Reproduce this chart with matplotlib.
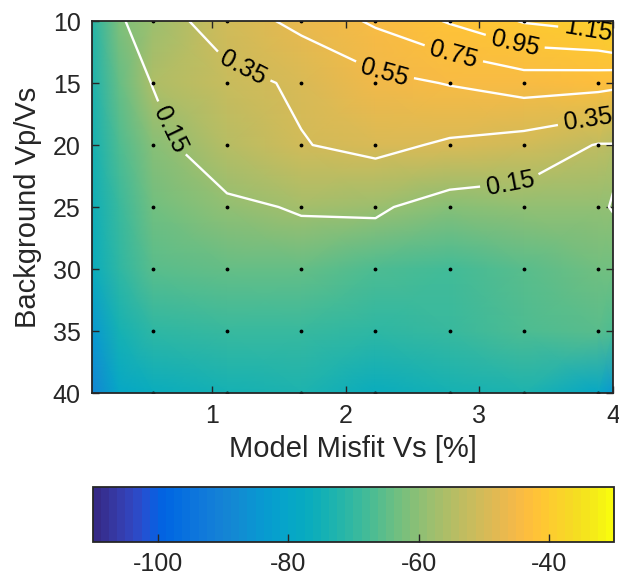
import numpy as np
import matplotlib
matplotlib.use("Agg")
import matplotlib.pyplot as plt
from matplotlib.colors import ListedColormap

plt.rcParams['font.family'] = ['Liberation Sans', 'DejaVu Sans']
plt.rcParams['axes.unicode_minus'] = False

# ----------------------------
# Parula colormap (64 colours)
# ----------------------------
parula_rgb = [
    [0.2081, 0.1663, 0.5292], [0.2116, 0.1898, 0.5777], [0.2123, 0.2138, 0.6270],
    [0.2081, 0.2386, 0.6771], [0.1959, 0.2645, 0.7279], [0.1707, 0.2919, 0.7792],
    [0.1253, 0.3242, 0.8303], [0.0591, 0.3598, 0.8683], [0.0117, 0.3875, 0.8820],
    [0.0060, 0.4086, 0.8828], [0.0165, 0.4266, 0.8786], [0.0329, 0.4430, 0.8720],
    [0.0498, 0.4586, 0.8641], [0.0629, 0.4737, 0.8554], [0.0723, 0.4887, 0.8467],
    [0.0779, 0.5040, 0.8384], [0.0793, 0.5200, 0.8312], [0.0749, 0.5375, 0.8263],
    [0.0641, 0.5570, 0.8240], [0.0488, 0.5772, 0.8228], [0.0343, 0.5966, 0.8199],
    [0.0265, 0.6137, 0.8135], [0.0239, 0.6287, 0.8038], [0.0231, 0.6418, 0.7913],
    [0.0228, 0.6535, 0.7768], [0.0267, 0.6642, 0.7607], [0.0384, 0.6743, 0.7436],
    [0.0590, 0.6838, 0.7254], [0.0843, 0.6928, 0.7062], [0.1133, 0.7015, 0.6859],
    [0.1453, 0.7098, 0.6646], [0.1801, 0.7177, 0.6424], [0.2178, 0.7250, 0.6193],
    [0.2586, 0.7317, 0.5954], [0.3022, 0.7376, 0.5712], [0.3482, 0.7424, 0.5473],
    [0.3953, 0.7459, 0.5244], [0.4420, 0.7481, 0.5033], [0.4871, 0.7491, 0.4840],
    [0.5300, 0.7491, 0.4661], [0.5709, 0.7485, 0.4494], [0.6099, 0.7473, 0.4337],
    [0.6473, 0.7456, 0.4188], [0.6834, 0.7435, 0.4044], [0.7184, 0.7411, 0.3905],
    [0.7525, 0.7384, 0.3768], [0.7858, 0.7356, 0.3633], [0.8185, 0.7327, 0.3498],
    [0.8507, 0.7299, 0.3360], [0.8824, 0.7274, 0.3217], [0.9139, 0.7258, 0.3063],
    [0.9450, 0.7261, 0.2886], [0.9739, 0.7314, 0.2666], [0.9938, 0.7455, 0.2403],
    [0.9990, 0.7653, 0.2164], [0.9955, 0.7861, 0.1967], [0.9880, 0.8066, 0.1794],
    [0.9789, 0.8271, 0.1633], [0.9697, 0.8481, 0.1475], [0.9626, 0.8705, 0.1309],
    [0.9589, 0.8949, 0.1132], [0.9598, 0.9218, 0.0948], [0.9661, 0.9514, 0.0755],
    [0.9763, 0.9831, 0.0538],
]
parula = ListedColormap(parula_rgb, name="parula")

# ----------------------------
# Data
# ----------------------------
vpvs = [10, 15, 20, 25, 30, 35, 40]

# background level (dB), rows follow vpvs, columns follow level_misfit
level_misfit = [0.1, 0.3, 0.556, 1.111, 1.667, 2.222, 2.778, 3.333, 3.889, 4.0]
level_db = [
    [-72, -62, -58, -51, -47, -44, -42, -41, -39.5, -38],
    [-73, -64, -56, -52, -49, -46, -44.5, -44, -43, -43],
    [-74.5, -67, -61, -54.5, -51, -49, -49.5, -51, -53, -54],
    [-76, -69, -63, -60, -57, -58, -61, -60, -59, -59],
    [-77.5, -71, -66, -64, -64, -67, -68.5, -66, -63, -63],
    [-84, -74, -71, -70, -70, -71, -70, -67, -66, -67],
    [-89, -80, -77, -75, -73.5, -77, -75, -73.5, -79, -85],
]

# contoured ratio, rows follow vpvs, columns follow misfit
misfit = [0.1, 0.556, 1.111, 1.667, 2.222, 2.778, 3.333, 3.889, 4.0]
ratio = [
    [0.02, 0.256, 0.448, 0.603, 0.782, 0.969, 1.166, 1.25, 1.32],
    [0.00, 0.155, 0.297, 0.377, 0.492, 0.560, 0.640, 0.62, 0.60],
    [0.00, 0.096, 0.270, 0.341, 0.400, 0.323, 0.265, 0.14, 0.14],
    [0.00, 0.050, 0.116, 0.165, 0.172, 0.083, 0.073, 0.142, 0.153],
    [0.00, 0.000, 0.030, 0.060, 0.050, 0.030, 0.050, 0.10, 0.12],
    [0.00, 0.000, 0.020, 0.030, 0.030, 0.020, 0.030, 0.05, 0.05],
    [0.00, 0.000, 0.000, 0.010, 0.010, 0.000, 0.010, 0.02, 0.02],
]
contour_levels = [0.15, 0.35, 0.55, 0.75, 0.95, 1.15]

# where the contour labels sit
label_spots = [
    (0.67, 18.8), (1.22, 14.0), (2.29, 14.0), (2.80, 13.0),
    (3.26, 12.0), (3.81, 11.2), (3.23, 23.0), (3.81, 17.85),
]

# sampled model points
sample_misfit = [0.556, 1.111, 1.667, 2.222, 2.778, 3.333, 3.889]
sample_vpvs = [10, 15, 20, 25, 30, 35, 40]

# ----------------------------
# Plot
# ----------------------------
dark = (0.15, 0.15, 0.15)

fig = plt.figure(figsize=(6.19, 5.76), dpi=100)
ax = fig.add_axes([0.1486, 0.3177, 0.8417, 0.6458])

mesh = ax.pcolormesh(level_misfit, vpvs, np.array(level_db), shading='gouraud',
                     cmap=parula, vmin=-110, vmax=-30)

cs = ax.contour(misfit, vpvs, np.array(ratio), levels=contour_levels,
                colors='white', linewidths=1.7)
labels = ax.clabel(cs, contour_levels, manual=label_spots, inline=True,
                   inline_spacing=6, fmt='%.2f', fontsize=18, colors='k')
# the y axis runs downwards, so flip the label angles to follow the lines
for t in labels:
    t.set_rotation(-t.get_rotation())

px, py = np.meshgrid(sample_misfit, sample_vpvs)
ax.plot(px.ravel(), py.ravel(), 'k.', ms=3.5)

ax.set_xlim(0.1, 4)
ax.set_ylim(40, 10)
ax.set_xticks([1, 2, 3, 4])
ax.set_yticks([10, 15, 20, 25, 30, 35, 40])
ax.tick_params(direction='in', top=True, right=True, length=5, width=1,
               labelsize=18, color=dark, labelcolor=dark, pad=8)
for s in ax.spines.values():
    s.set_color(dark)
    s.set_linewidth(1.3)

ax.set_xlabel("Model Misfit Vs [%]", fontsize=21, color=dark, labelpad=5)
ax.set_ylabel("Background Vp/Vs", fontsize=21, color=dark, labelpad=8)

cax = fig.add_axes([0.1498, 0.059, 0.8422, 0.0955])
cb = fig.colorbar(mesh, cax=cax, orientation='horizontal',
                  ticks=[-100, -80, -60, -40])
cax.tick_params(direction='in', length=6, width=1, labelsize=18,
                color=dark, labelcolor=dark, pad=7)
cb.outline.set_edgecolor(dark)
cb.outline.set_linewidth(1.3)

fig.savefig("out.png", dpi=100)
